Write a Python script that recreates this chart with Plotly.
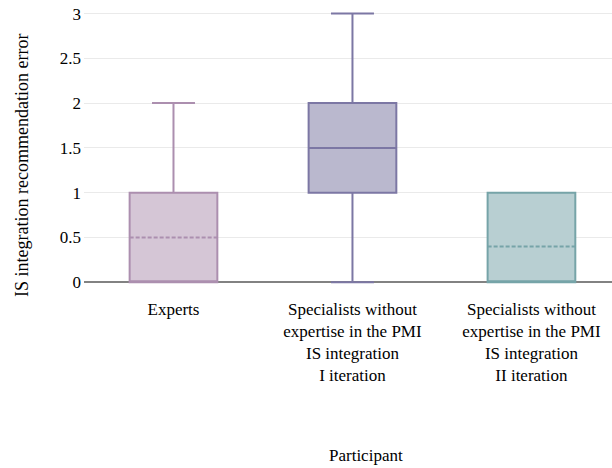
import plotly.graph_objects as go

categories = ["Experts",
              "Specialists without<br>expertise in the PMI<br>IS integration<br>I iteration",
              "Specialists without<br>expertise in the PMI<br>IS integration<br>II iteration"]
q1 = [0, 1, 0]
median = [0, 1.5, 0]
mean = [0.5, 1.5, 0.4]
q3 = [1, 2, 1]
lowerfence = [0, 0, 0]
upperfence = [2, 3, 1]
fill_colors = ["rgb(213,198,214)", "rgb(186,184,206)", "rgb(184,207,210)"]
line_colors = ["rgb(172,143,175)", "rgb(124,119,164)", "rgb(118,164,168)"]
y_ticks = [0, 0.5, 1, 1.5, 2, 2.5, 3]

fig = go.Figure()
for i, c in enumerate(categories):
    fig.add_trace(go.Box(
        x=[c], q1=[q1[i]], median=[median[i]], mean=[mean[i]], q3=[q3[i]],
        lowerfence=[lowerfence[i]], upperfence=[upperfence[i]],
        boxpoints=False, width=0.49, whiskerwidth=0.49,
        fillcolor=fill_colors[i], line=dict(color=line_colors[i], width=2),
        showlegend=False, hoverinfo="skip"))

font = "Liberation Serif"
FS = 17
W, H = 612, 468
L, T = 84, 10.4
R = 0
B = H - 283.8
PW, PH = W - L - R, H - T - B


def px_x(x):
    return (x - L) / PW


def px_y(y):
    return (H - B - y) / PH


fig.update_layout(
    width=W, height=H, boxmode="overlay",
    margin=dict(l=L, r=R, t=T, b=B, autoexpand=False),
    paper_bgcolor="white", plot_bgcolor="white",
    font=dict(family=font, size=FS, color="black"),
    xaxis=dict(type="category", range=[-0.5, 2.45], showgrid=False,
               showline=False, ticks="", tickfont=dict(family=font, size=FS),
               ticklabelstandoff=13, zeroline=False),
    yaxis=dict(range=[-0.02, 3.04], tickvals=y_ticks,
               ticktext=[("%g" % v) for v in y_ticks],
               showgrid=True, gridcolor="rgb(234,234,234)", gridwidth=1,
               zeroline=True, zerolinecolor="rgb(130,130,130)", zerolinewidth=1.5,
               showline=False, ticks="", ticklabelstandoff=2,
               ticklabeloverflow="allow",
               tickfont=dict(family=font, size=FS)),
    annotations=[
        dict(text="IS integration recommendation error", textangle=-90,
             xref="paper", yref="paper", x=px_x(22), y=px_y(166),
             xanchor="center", yanchor="middle", showarrow=False,
             font=dict(family=font, size=18)),
        dict(text="Participant", xref="paper", yref="paper",
             x=px_x(366), y=px_y(455),
             xanchor="center", yanchor="middle", showarrow=False,
             font=dict(family=font, size=FS)),
    ],
)
fig.write_html("out.html", config={"displayModeBar": False},
               post_script="document.body.style.margin='0px';")
